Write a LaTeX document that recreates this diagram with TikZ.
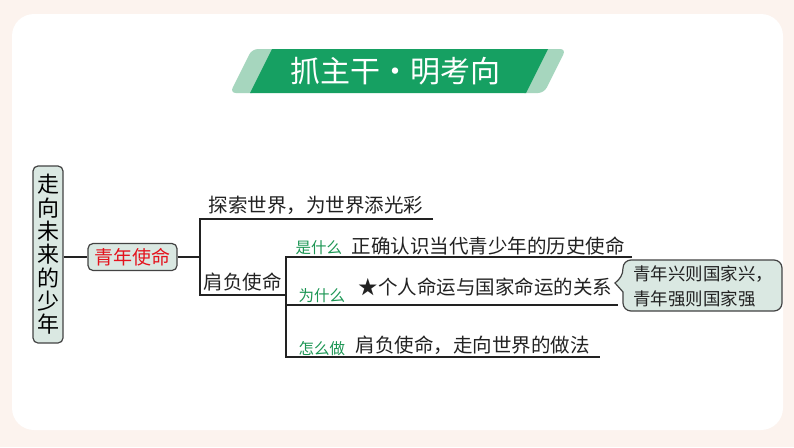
\documentclass[tikz,border=0pt]{standalone}
\usepackage{fontspec}
\setmainfont{Noto Sans CJK SC}
\definecolor{bgpeach}{RGB}{252,243,238}
\definecolor{bannergreen}{RGB}{22,160,98}
\definecolor{stripgreen}{RGB}{166,214,190}
\definecolor{labelgreen}{RGB}{28,150,84}
\definecolor{boxfill}{RGB}{218,232,226}
\definecolor{missionred}{RGB}{228,18,28}
\definecolor{ink}{RGB}{34,34,34}
\begin{document}
\begin{tikzpicture}
[x=1pt, y=-1pt, line width=1.3pt, draw=ink,
link/.style={draw=ink, line width=1.3pt},
topicbox/.style={rectangle, rounded corners=5pt, draw=ink!85, line width=1.2pt, fill=boxfill, inner sep=0pt},
item/.style={anchor=base west, inner sep=0pt, text=ink, font=\fontsize{19.5}{20}\selectfont},
ask/.style={anchor=base west, inner sep=0pt, text=labelgreen, font=\fontsize{15.5}{16}\selectfont}]

% page and card
\fill[bgpeach] (0,0) rectangle (794,447);
\useasboundingbox (0,0) rectangle (794,447);
\fill[white, rounded corners=22pt] (12,14) rectangle (783,430);

% title banner
\fill[stripgreen, rounded corners=6pt] (230,93) -- (252,49) -- (280,49) -- (258,93) -- cycle;
\fill[stripgreen, rounded corners=6pt] (518,93) -- (540,49) -- (566,49) -- (544,93) -- cycle;
\fill[bannergreen] (250,93) -- (272,49) -- (548,49) -- (526,93) -- cycle;
\node[text=white, font=\fontsize{30}{30}\selectfont] (title) at (395,71) {抓主干·明考向};

% main topics
\node[topicbox, minimum width=30pt, minimum height=177pt, align=center,
  font=\fontsize{22}{23.3}\selectfont] (youth) at (48,254.5)
  {走\\向\\未\\来\\的\\少\\年};
\node[topicbox, minimum width=89pt, minimum height=27pt, text=missionred,
  font=\fontsize{19}{19}\selectfont] (mission) at (132.5,257) {青年使命};

% brackets
\coordinate (j1t) at (200,219);
\coordinate (j1b) at (200,295);
\coordinate (e1) at (433,219);
\coordinate (j2t) at (286,257);
\coordinate (j2m) at (286,305);
\coordinate (j2b) at (286,357);
\coordinate (e2) at (632,257);
\coordinate (e3) at (618,305);
\coordinate (e4) at (600,357);

\draw[link] (youth.east |- mission) -- (mission.west);
\draw[link] (mission.east) -- (j1t |- mission);
\draw[link] (e1) -- (j1t) -- (j1b) -- (j2b |- j1b);
\draw[link] (e2) -- (j2t) -- (j2b) -- (e4);
\draw[link] (j2m) -- (e3);

% texts on the lines
\node[item] (explore) at (208,212.5) {探索世界，为世界添光彩};
\node[item] (duty) at (203,289) {肩负使命};
\node[ask] (what) at (295,253) {是什么};
\node[item] (whattext) at (351,253.5) {正确认识当代青少年的历史使命};
\node[ask] (why) at (298,301) {为什么};
\node[item] (whytext) at (358,294.5) {★个人命运与国家命运的关系};
\node[ask] (how) at (298,354) {怎么做};
\node[item] (howtext) at (355,352) {肩负使命，走向世界的做法};

% callout
\draw[fill=boxfill, draw=ink!85, line width=1.2pt]
  (615,283) .. controls (620,279) and (623,275) .. (623,268)
  [rounded corners=8pt] -- (623,260) -- (782,260) -- (782,311) -- (623,311)
  [sharp corners] -- (623,292) -- cycle;
\node[align=left, text=ink, inner sep=0pt, font=\fontsize{17.5}{25}\selectfont]
  (slogan) at (703,286) {青年兴则国家兴，\\青年强则国家强};
\end{tikzpicture}
\end{document}
